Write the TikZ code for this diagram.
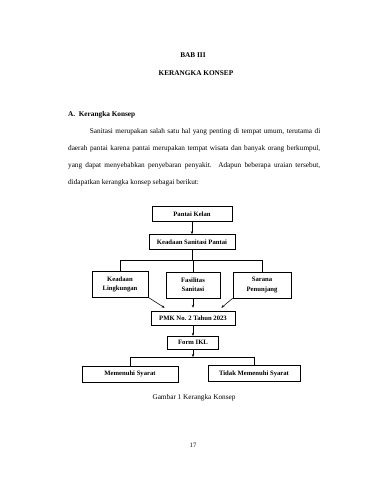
\documentclass[tikz,border=0pt]{standalone}
\usepackage{fontspec}
\setmainfont{Liberation Serif}
\usetikzlibrary{arrows.meta, positioning, calc}

\begin{document}
\begin{tikzpicture}[
  x=1.65pt, y=-1.65pt,
  box/.style={draw, line width=0.9pt, inner sep=1pt, align=center, font=\fontsize{11}{15}\selectfont\bfseries},
  tallbox/.style={box, minimum height=43pt},
  link/.style={line width=0.9pt},
  arrow/.style={link, -{Stealth[length=5pt, width=4pt]}},
  heading/.style={font=\fontsize{12}{14}\selectfont\bfseries},
]
\useasboundingbox[fill=white] (0,0) rectangle (371,480);
% judul
\node[heading] (bab) at (193,55) {BAB III};
\node[heading] (judul) at (196,73) {KERANGKA KONSEP};
\node[heading, anchor=west, inner sep=0pt] (subbab) at (68,115) {A.\hspace{6pt}Kerangka Konsep};
\node[anchor=north west, text width=416pt, align=justify, inner sep=0pt, font=\fontsize{12}{28}\selectfont] (paragraf) at (68,128)
  {\hspace*{36pt}Sanitasi merupakan salah satu hal yang penting di tempat umum, terutama di\linebreak
   daerah pantai karena pantai merupakan tempat wisata dan banyak orang berkumpul,\linebreak
   yang dapat menyebabkan penyebaran penyakit. Adapun beberapa uraian tersebut,\linebreak
   didapatkan kerangka konsep sebagai berikut:};

% bagan kerangka konsep
\node[box, minimum width=132pt, minimum height=25pt] (pantai) at (192,214) {Pantai Kelan};
\node[box, minimum width=142pt, minimum height=25pt] (keadaan) at (192,242) {Keadaan Sanitasi Pantai};
\node[tallbox, minimum width=92pt] (lingkungan) at (120,284) {Keadaan\\Lingkungan};
\node[tallbox, minimum width=89pt] (fasilitas) at (193,285) {Fasilitas\\Sanitasi};
\node[tallbox, minimum width=96pt] (sarana) at (262,285) {Sarana\\Penunjang};
\node[box, minimum width=139pt, minimum height=23pt] (pmk) at (193,318) {PMK No. 2 Tahun 2023};
\node[box, minimum width=84pt, minimum height=21pt] (form) at (193,342.5) {Form IKL};
\node[box, minimum width=158pt, minimum height=26pt] (memenuhi) at (130,374) {Memenuhi Syarat};
\node[box, minimum width=152pt, minimum height=26pt] (tidak) at (254,373.5) {Tidak Memenuhi Syarat};

\coordinate (atas) at (192,260);
\coordinate (bawah) at (193,357);

\draw[arrow] (pantai.south) -- (keadaan.north);
\draw[link] (keadaan.south) -- (keadaan.south |- atas);
\draw[link] (lingkungan.north) -- (lingkungan.north |- atas) -- (sarana.north |- atas) -- (sarana.north);
\draw[link] (fasilitas.north) -- (fasilitas.north |- atas);
\draw[arrow] (lingkungan.south east) -- ($(pmk.north west)+(14,-3)$);
\draw[arrow] (fasilitas.south) -- ($(pmk.north)+(0,-3)$);
\draw[arrow] (sarana.south west) -- ($(pmk.north east)+(-14,-3)$);
\draw[arrow] (pmk.south) -- (form.north);
\draw[arrow] (form.south) -- (form.south |- bawah);
\draw[link] (memenuhi.north) -- (memenuhi.north |- bawah) -- (tidak.north |- bawah) -- (tidak.north);

\node[font=\fontsize{12}{14}\selectfont] (keterangan) at (194,398) {Gambar 1 Kerangka Konsep};
\node[font=\fontsize{11}{13}\selectfont] (halaman) at (193,445) {17};
\end{tikzpicture}
\end{document}
